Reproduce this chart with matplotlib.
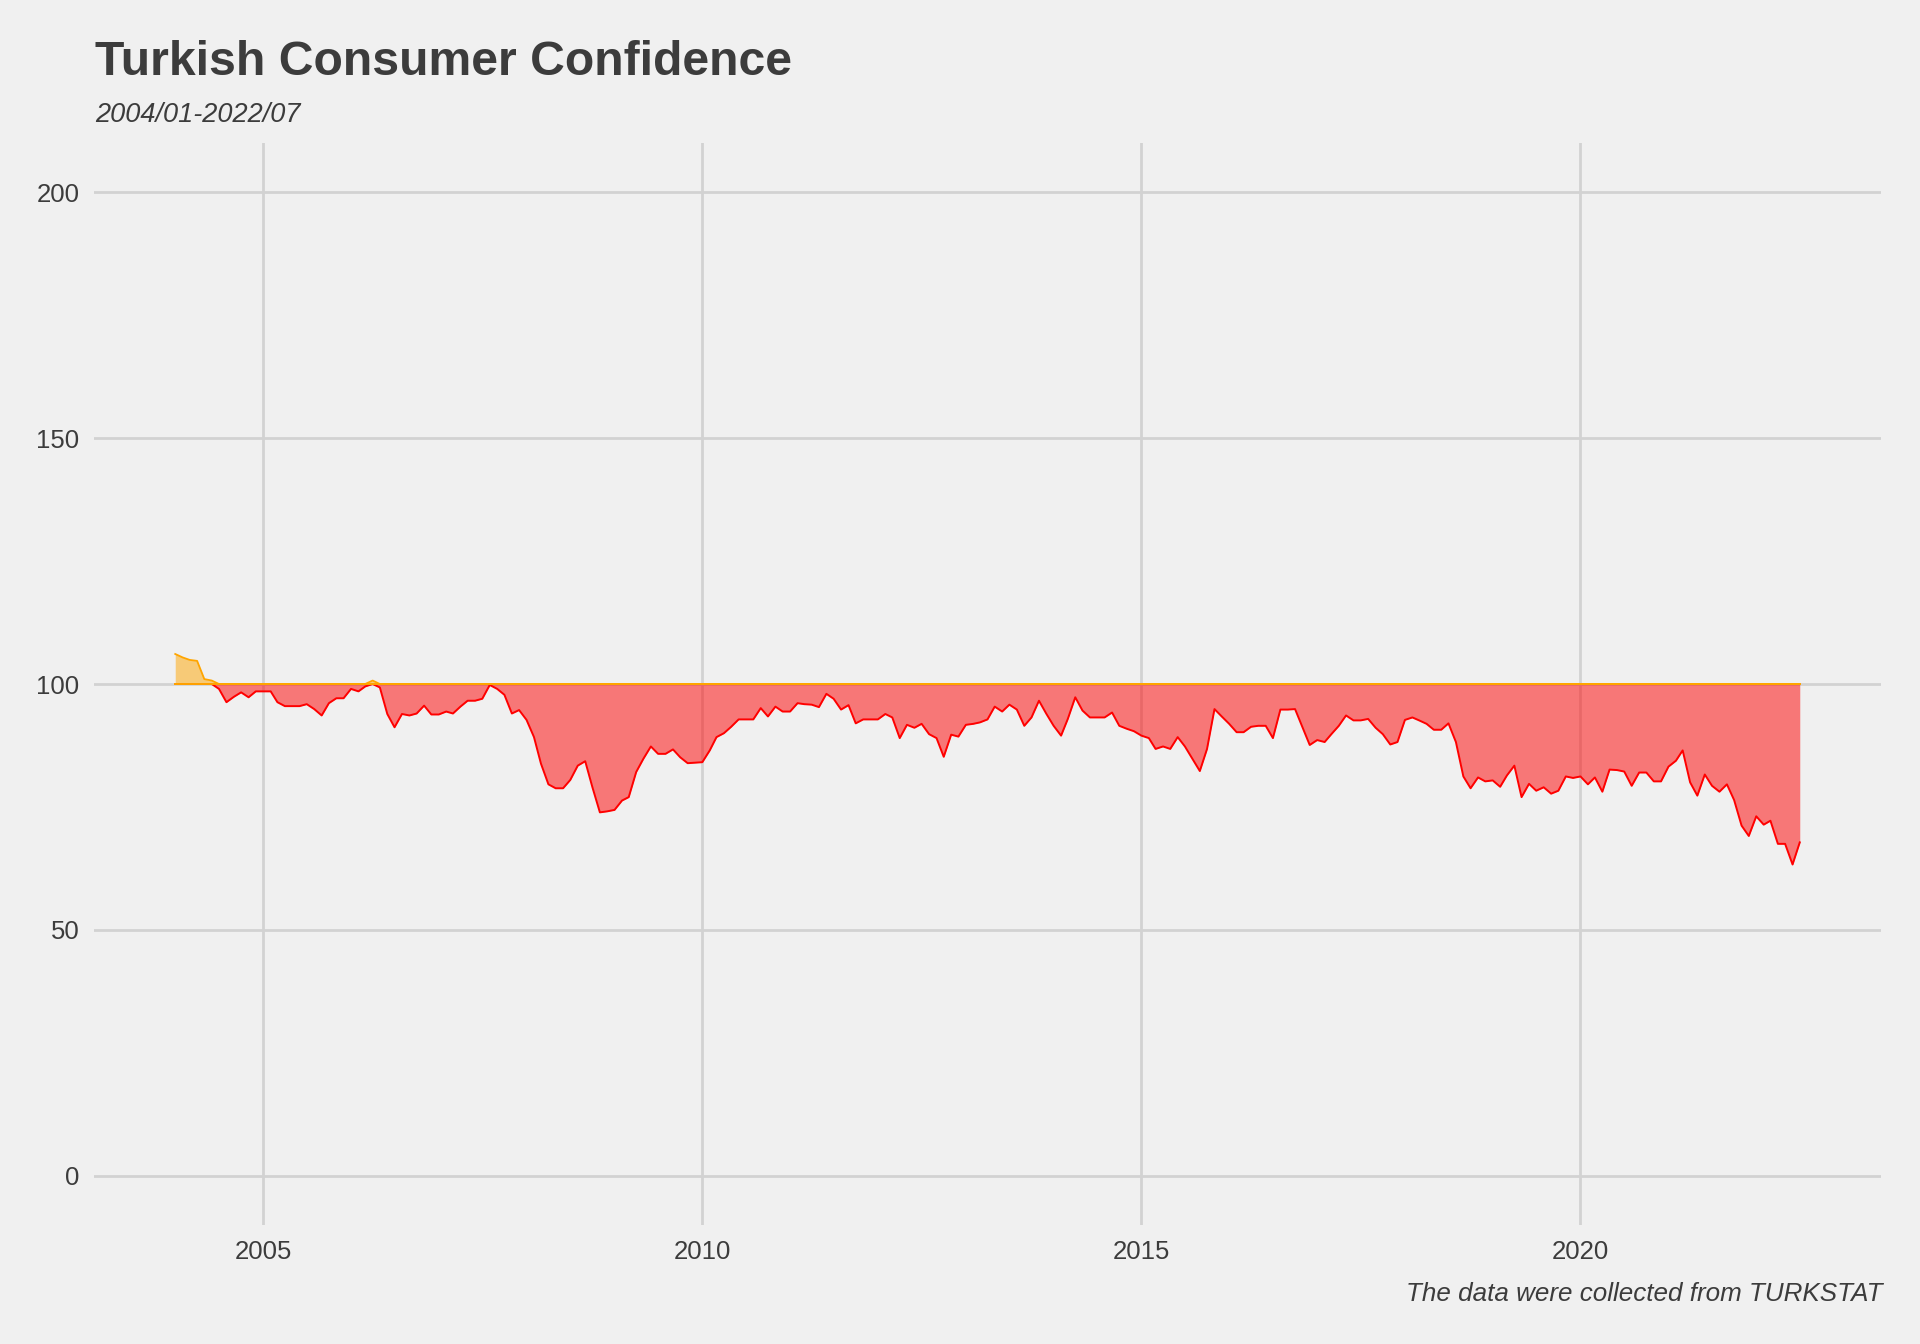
import numpy as np
import pandas as pd
import matplotlib
matplotlib.use("Agg")
import matplotlib.pyplot as plt
import matplotlib.dates as mdates

plt.rcParams['font.family'] = ['Liberation Sans', 'DejaVu Sans']

# monthly consumer confidence index, 2004/01 - 2022/07
conf = [
    106.1, 105.4, 104.9, 104.7, 101.0, 100.7, 99.0, 96.3, 97.4, 98.3, 97.3, 98.5,   # 2004
    98.5, 98.5, 96.3, 95.5, 95.5, 95.5, 95.9, 94.9, 93.6, 96.1, 97.1, 97.1,         # 2005
    99.0, 98.5, 99.5, 100.7, 99.3, 93.9, 91.2, 93.9, 93.6, 94.0, 95.6, 93.8,        # 2006
    93.8, 94.4, 94.0, 95.4, 96.6, 96.6, 97.0, 99.8, 99.0, 97.8, 94.0, 94.7,         # 2007
    92.7, 89.2, 83.8, 79.6, 78.8, 78.8, 80.5, 83.4, 84.3, 79.0, 73.9, 74.1,         # 2008
    74.4, 76.3, 77.0, 82.1, 84.8, 87.3, 85.8, 85.8, 86.7, 85.1, 83.9, 84.0,         # 2009
    84.1, 86.5, 89.2, 90.0, 91.3, 92.8, 92.8, 92.8, 95.1, 93.4, 95.4, 94.4,         # 2010
    94.4, 96.1, 95.9, 95.8, 95.3, 98.0, 97.0, 94.8, 95.7, 92.0, 92.8, 92.8,         # 2011
    92.8, 93.9, 93.2, 89.0, 91.7, 91.1, 91.9, 89.8, 89.0, 85.2, 89.7, 89.3,         # 2012
    91.7, 91.9, 92.2, 92.8, 95.4, 94.4, 95.8, 94.8, 91.5, 93.2, 96.6, 94.0,         # 2013
    91.5, 89.5, 92.9, 97.3, 94.6, 93.2, 93.2, 93.2, 94.2, 91.5, 90.9, 90.4,         # 2014
    89.5, 89.0, 86.8, 87.3, 86.8, 89.2, 87.3, 84.8, 82.3, 86.8, 94.9, 93.4,         # 2015
    91.9, 90.2, 90.2, 91.3, 91.5, 91.5, 89.0, 94.8, 94.8, 94.9, 91.2, 87.6,         # 2016
    88.6, 88.2, 89.8, 91.5, 93.6, 92.6, 92.6, 92.9, 91.1, 89.8, 87.7, 88.2,         # 2017
    92.7, 93.2, 92.6, 91.9, 90.7, 90.7, 92.0, 88.2, 81.2, 78.8, 81.0, 80.2,         # 2018
    80.4, 79.1, 81.4, 83.4, 77.0, 79.7, 78.3, 79.0, 77.7, 78.3, 81.2, 80.9,         # 2019
    81.2, 79.6, 81.0, 78.1, 82.6, 82.5, 82.2, 79.3, 82.0, 82.0, 80.2, 80.2,         # 2020
    83.2, 84.4, 86.5, 80.0, 77.3, 81.6, 79.3, 78.1, 79.6, 76.4, 71.2, 69.1,         # 2021
    73.1, 71.4, 72.2, 67.5, 67.5, 63.3, 67.8,                                       # 2022
]
dates = pd.date_range('2004-01-01', periods=len(conf), freq='MS')
baseline = 100
y_ticks = [0, 50, 100, 150, 200]

title = 'Turkish Consumer Confidence'
subtitle = '2004/01-2022/07'
caption = 'The data were collected from TURKSTAT'

BG = '#F0F0F0'
GRID = '#D2D2D2'
TXT = '#3C3C3C'
W, H = 1920, 1344

y = np.array(conf)
lo = np.minimum(y, baseline)
hi = np.maximum(y, baseline)

fig = plt.figure(figsize=(W / 100, H / 100), dpi=100, facecolor=BG)
left, right, top, bottom = 94, 1881, 143, 1225
ax = fig.add_axes([left / W, 1 - bottom / H, (right - left) / W, (bottom - top) / H])
ax.set_facecolor(BG)

ax.fill_between(dates, baseline, lo, color='red', alpha=0.5, linewidth=0)
ax.fill_between(dates, baseline, hi, color='orange', alpha=0.5, linewidth=0)
ax.plot(dates, lo, color='red', linewidth=1.4, zorder=3)
ax.plot(dates, hi, color='orange', linewidth=1.3, zorder=4)
ax.plot([dates[0], dates[-1]], [baseline, baseline], color='orange', linewidth=1.4, zorder=5)

# ggplot-like 5% expansion
span = dates[-1] - dates[0]
ax.set_xlim(dates[0] - 0.05 * span, dates[-1] + 0.05 * span)
ax.set_ylim(-10, 210)

ax.xaxis.set_major_locator(mdates.YearLocator(5))
ax.xaxis.set_major_formatter(mdates.DateFormatter('%Y'))
ax.set_yticks(y_ticks)

ax.grid(True, color=GRID, linewidth=2.0, zorder=0)
ax.set_axisbelow(True)
for s in ax.spines.values():
    s.set_visible(False)
ax.tick_params(axis='both', length=0, labelsize=18.5, labelcolor=TXT)
ax.tick_params(axis='x', pad=11)
ax.tick_params(axis='y', pad=10.5)

fig.text(95 / W, 1 - 75 / H, title, fontsize=34.7, fontweight='bold',
         color=TXT, ha='left', va='baseline')
fig.text(95 / W, 1 - 121.7 / H, subtitle, fontsize=19.5, fontstyle='italic',
         color=TXT, ha='left', va='baseline')
fig.text(1882 / W, 1 - 1301 / H, caption, fontsize=18.7, fontstyle='italic',
         color=TXT, ha='right', va='baseline')

fig.savefig('out.png', dpi=100, facecolor=BG)
